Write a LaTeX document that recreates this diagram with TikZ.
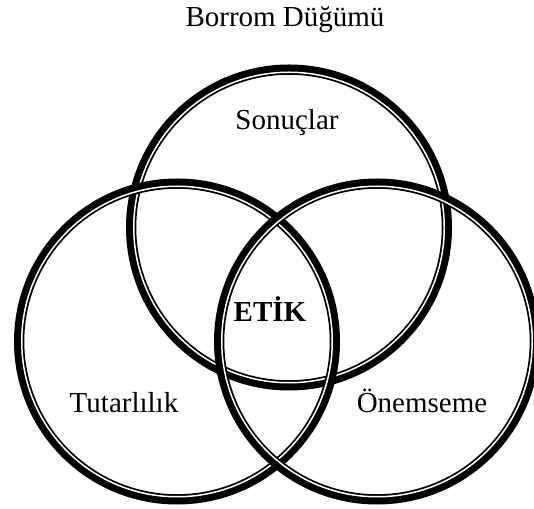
\documentclass[tikz,border=0pt]{standalone}
\usepackage{fontspec}
\setmainfont{Liberation Serif}
\usepackage{tikz}
\usetikzlibrary{positioning}

\tikzset{
  ringband/.style={draw=black, line width=10.3pt},
  ringgap/.style={draw=white, line width=1.5pt},
  lbl/.style={anchor=base, font=\fontsize{29}{35}\selectfont}
}

\begin{document}
\begin{tikzpicture}[x=1pt,y=1pt]
    \useasboundingbox (0,0) rectangle (534,508);

    % ring centres
    \coordinate (sonuc) at (289,280.5);
    \coordinate (tutar) at (177,166.5);
    \coordinate (onem) at (377,166.5);

    % the three rings
    \foreach \c in {sonuc,tutar,onem} {
        \draw[ringband] (\c) circle (157.85);
        \draw[ringgap] (\c) circle (155.25);
    }

    % labels
    \node[lbl] (baslik) at (285,481) {Borrom Düğümü};
    \node[lbl] (sonuclar) at (287,378) {Sonuçlar};
    \node[lbl, font=\fontsize{29}{35}\selectfont\bfseries] (etik) at (270,186) {ETİK};
    \node[lbl] (tutarlilik) at (124,96) {Tutarlılık};
    \node[lbl] (onemseme) at (422,96) {Önemseme};
\end{tikzpicture}
\end{document}
